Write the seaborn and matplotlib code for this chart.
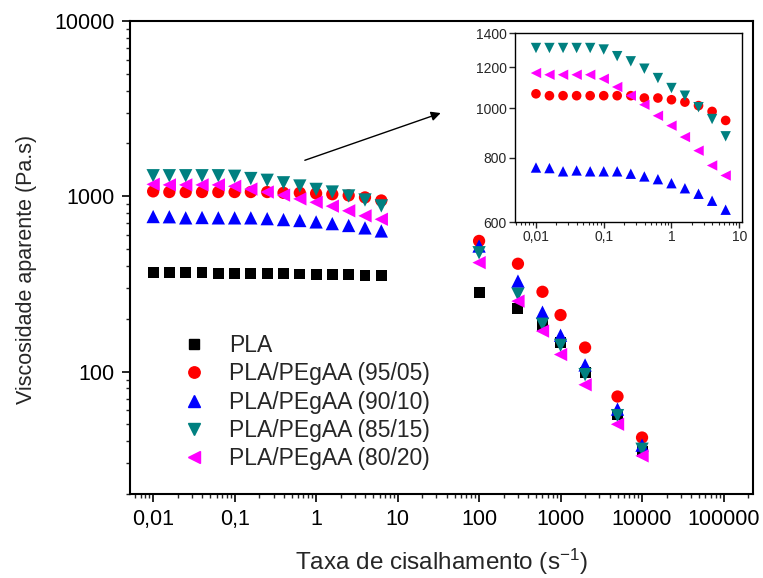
import numpy as np
import pandas as pd
import matplotlib
matplotlib.use("Agg")
import matplotlib.pyplot as plt
import seaborn as sns
from matplotlib.lines import Line2D
from matplotlib.ticker import FixedLocator, FixedFormatter, LogLocator, NullFormatter

sns.set_style("ticks")
plt.rcParams['font.family'] = ['Liberation Sans', 'DejaVu Sans']
plt.rcParams['mathtext.default'] = 'regular'

# ---- data ----
series_names = ["PLA", "PLA/PEgAA (95/05)", "PLA/PEgAA (90/10)", "PLA/PEgAA (85/15)", "PLA/PEgAA (80/20)"]
colors = ["#000000", "#FF0000", "#0000FF", "#008080", "#FF00FF"]
markers = ["s", "o", "^", "v", "<"]

shear_low = [0.01, 0.0158, 0.0251, 0.0398, 0.0631, 0.1, 0.158, 0.251, 0.398, 0.631, 1.0, 1.58, 2.51, 3.98, 6.31]
shear_high = [100, 300, 600, 1000, 2000, 5000, 10000]

pla_low = [368, 367, 366, 365, 364, 362, 362, 361, 361, 360, 358, 357, 356, 355, 352]
r95_low = [1066, 1057, 1057, 1057, 1057, 1057, 1057, 1057, 1046, 1046, 1038, 1027, 1011, 985, 946]
r90_low = [766, 764, 753, 756, 753, 753, 753, 745, 736, 727, 714, 698, 681, 660, 634]
r85_low = [1309, 1309, 1309, 1309, 1309, 1300, 1262, 1233, 1193, 1144, 1094, 1057, 1004, 952, 881]
r80_low = [1170, 1161, 1161, 1161, 1161, 1140, 1099, 1057, 1015, 966, 924, 878, 826, 773, 739]

pla_high = [282, 228, 183, 146, 99, 57, 35]
r95_high = [556, 412, 285, 210, 137, 72, 42]
r90_high = [520, 328, 218, 161, 109, 61, 38]
r85_high = [476, 276, 186, 141, 96, 56, 36]
r80_high = [418, 252, 170, 125, 84, 50, 33]

low_vals = [pla_low, r95_low, r90_low, r85_low, r80_low]
high_vals = [pla_high, r95_high, r90_high, r85_high, r80_high]

rows = []
for name, lv, hv in zip(series_names, low_vals, high_vals):
    for x, y in zip(shear_low, lv):
        rows.append((name, x, y, "low"))
    for x, y in zip(shear_high, hv):
        rows.append((name, x, y, "high"))
df = pd.DataFrame(rows, columns=["amostra", "taxa", "visc", "faixa"])

palette = dict(zip(series_names, colors))
mk = dict(zip(series_names, markers))
main_sizes = dict(zip(series_names, [62, 78, 92, 92, 92]))
inset_sizes = dict(zip(series_names, [40, 48, 56, 56, 56]))

fig = plt.figure(figsize=(7.63, 5.78), dpi=100)
W, H = 763, 578
ax = fig.add_axes([130 / W, 1 - 494 / H, (753 - 130) / W, (494 - 21) / H])

sns.scatterplot(data=df, x="taxa", y="visc", hue="amostra", style="amostra",
                size="amostra", sizes=main_sizes,
                palette=palette, markers=mk, edgecolor="none",
                legend=False, ax=ax, zorder=3)
ax.set_xscale("log")
ax.set_yscale("log")
ax.set_xlim(0.0052, 2.3e5)
ax.set_ylim(20, 10000)

xt = [0.01, 0.1, 1, 10, 100, 1000, 10000, 100000]
xtl = ["0,01", "0,1", "1", "10", "100", "1000", "10000", "100000"]
ax.xaxis.set_major_locator(FixedLocator(xt))
ax.xaxis.set_major_formatter(FixedFormatter(xtl))
ax.xaxis.set_minor_locator(LogLocator(base=10, subs=np.arange(2, 10), numticks=20))
ax.xaxis.set_minor_formatter(NullFormatter())
ax.yaxis.set_major_locator(FixedLocator([100, 1000, 10000]))
ax.yaxis.set_major_formatter(FixedFormatter(["100", "1000", "10000"]))
ax.yaxis.set_minor_locator(LogLocator(base=10, subs=np.arange(2, 10), numticks=20))
ax.yaxis.set_minor_formatter(NullFormatter())

ax.tick_params(which="major", direction="out", length=6, width=1.2, labelsize=15.5,
               colors="black", pad=5)
ax.tick_params(which="minor", direction="out", length=3, width=1.0)
for sp in ax.spines.values():
    sp.set_linewidth(1.5)
    sp.set_color("black")
ax.set_xlabel("Taxa de cisalhamento (s$^{-1}$)", fontsize=17.5, labelpad=12)
ax.set_ylabel("Viscosidade aparente (Pa.s)", fontsize=15.5)
ax.yaxis.set_label_coords((37 - 130) / 623, (494 - 269) / 473)

handles = [Line2D([], [], linestyle="none", marker=m, color=c, markersize=ms)
           for m, c, ms in zip(markers, colors, [6.8, 8.2, 8.8, 8.8, 8.8])]
ax.legend(handles, series_names, loc="upper left",
          bbox_to_anchor=(180 / W, 1 - 334 / H), bbox_transform=fig.transFigure,
          frameon=False, fontsize=16.5, handletextpad=0.95, labelspacing=0.23,
          handlelength=1.2, borderpad=0.0, borderaxespad=0.0)

ax.annotate("", xy=(36.4, 3020), xytext=(0.675, 1585),
            arrowprops=dict(arrowstyle="-|>", color="black", lw=1.0, mutation_scale=14))

# ---- inset ----
axi = fig.add_axes([515 / W, 1 - 222 / H, (742 - 515) / W, (222 - 33) / H])
df_low = df[df["faixa"] == "low"]
df_in = df_low[df_low["amostra"] != "PLA"]
sns.scatterplot(data=df_in, x="taxa", y="visc", hue="amostra", style="amostra",
                size="amostra", sizes=inset_sizes,
                palette=palette, markers=mk, edgecolor="none",
                legend=False, ax=axi, zorder=3)
axi.set_xscale("log")
axi.set_yscale("log")
axi.set_xlim(0.0049, 11)
axi.set_ylim(600, 1400)
axi.xaxis.set_major_locator(FixedLocator([0.01, 0.1, 1, 10]))
axi.xaxis.set_major_formatter(FixedFormatter(["0,01", "0,1", "1", "10"]))
axi.xaxis.set_minor_locator(LogLocator(base=10, subs=np.arange(2, 10), numticks=20))
axi.xaxis.set_minor_formatter(NullFormatter())
axi.yaxis.set_major_locator(FixedLocator([600, 800, 1000, 1200, 1400]))
axi.yaxis.set_major_formatter(FixedFormatter(["600", "800", "1000", "1200", "1400"]))
axi.yaxis.set_minor_locator(FixedLocator([]))
axi.tick_params(which="major", direction="out", length=4, width=1.0, labelsize=10, pad=2)
axi.tick_params(which="minor", direction="out", length=2, width=0.8)
for sp in axi.spines.values():
    sp.set_linewidth(1.0)
    sp.set_color("black")
axi.set_xlabel("")
axi.set_ylabel("")

fig.savefig("out.png", dpi=100)
